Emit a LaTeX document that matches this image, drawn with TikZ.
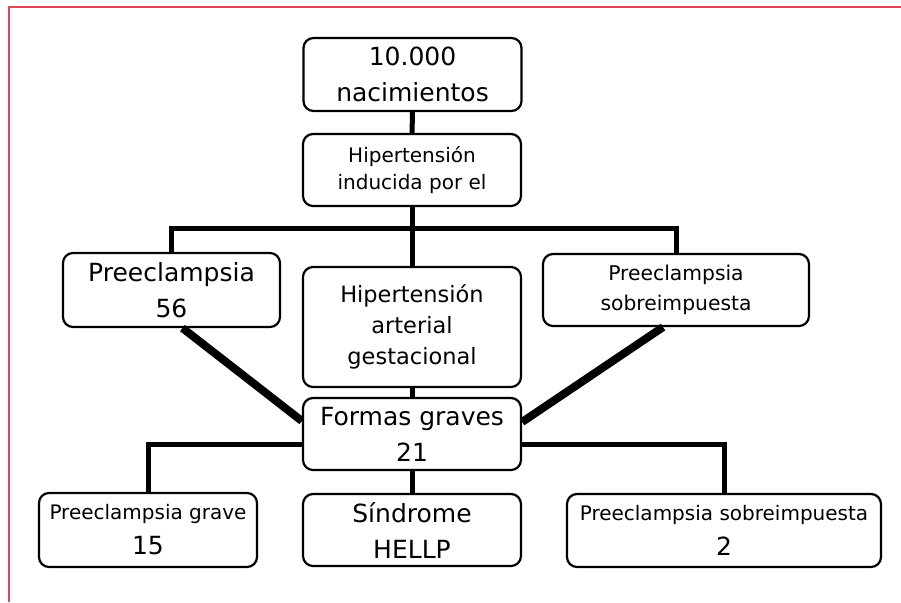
\documentclass[tikz,border=0pt]{standalone}
\usepackage{fontspec}
\setmainfont{DejaVu Sans}
\usetikzlibrary{calc}
\definecolor{borde}{RGB}{222,72,88}

\begin{document}
\begin{tikzpicture}[x=1pt, y=-1pt,
		caja/.style = {draw, line width=2.2pt, rounded corners=10pt, align=center, inner sep=0pt, minimum width=218pt, minimum height=72pt},
		grande/.style = {font=\fontsize{25}{36}\selectfont},
		media/.style = {font=\fontsize{20}{27}\selectfont},
		chica/.style = {font=\fontsize{20.3}{30}\selectfont},
		doble/.style = {font=\fontsize{20}{35}\selectfont},
		linea/.style = {line width=5pt},
		diag/.style = {line width=8pt}]
		\useasboundingbox (0,0) rectangle (901,602);
		\draw[borde, line width=2pt] (8.5,602) -- (8.5,7.5) -- (901,7.5);
		\node[caja, grande, minimum height=73pt] (nac) at (412.5,74.5) {10.000\\nacimientos};
		\node[caja, media] (hie) at (412,170) {Hipertensión\\inducida por el};
		\node[caja, grande, minimum width=217pt, minimum height=74pt] (pre) at (171.5,290) {Preeclampsia\\56};
		\node[caja, font=\fontsize{22.5}{31}\selectfont, minimum height=120pt] (hta) at (412,327) {Hipertensión\\arterial\\gestacional};
		\node[caja, chica, minimum width=266pt] (psi) at (676,290) {Preeclampsia\\sobreimpuesta};
		\node[caja, grande] (fg) at (412,434) {Formas graves\\21};
		\node[caja, doble, minimum height=74pt] (pg) at (148,530) {Preeclampsia grave\\{\fontsize{25}{35}\selectfont 15}};
		\node[caja, grande] (hellp) at (412,530) {Síndrome\\HELLP};
		\node[caja, doble, minimum width=314pt, minimum height=73pt] (psd) at (724,530.5) {Preeclampsia sobreimpuesta\\{\fontsize{25}{35}\selectfont 2}};
		\coordinate (barra) at (412,228);
		\path[linea] (nac) edge (hie)
			(hie) edge (hta)
			(hta) edge (fg)
			(fg) edge (hellp);
		\draw[linea] (pre.north) |- (barra) -| (psi.north);
		\draw[linea] ([yshift=-10pt]fg.west) -| (pg.north);
		\draw[linea] ([yshift=-10pt]fg.east) -| (psd.north);
		\draw[diag] ([xshift=11pt]pre.south) -- ([yshift=13pt]fg.west);
		\draw[diag] ([xshift=-13pt]psi.south) -- ([yshift=12pt]fg.east);
	\end{tikzpicture}
\end{document}
